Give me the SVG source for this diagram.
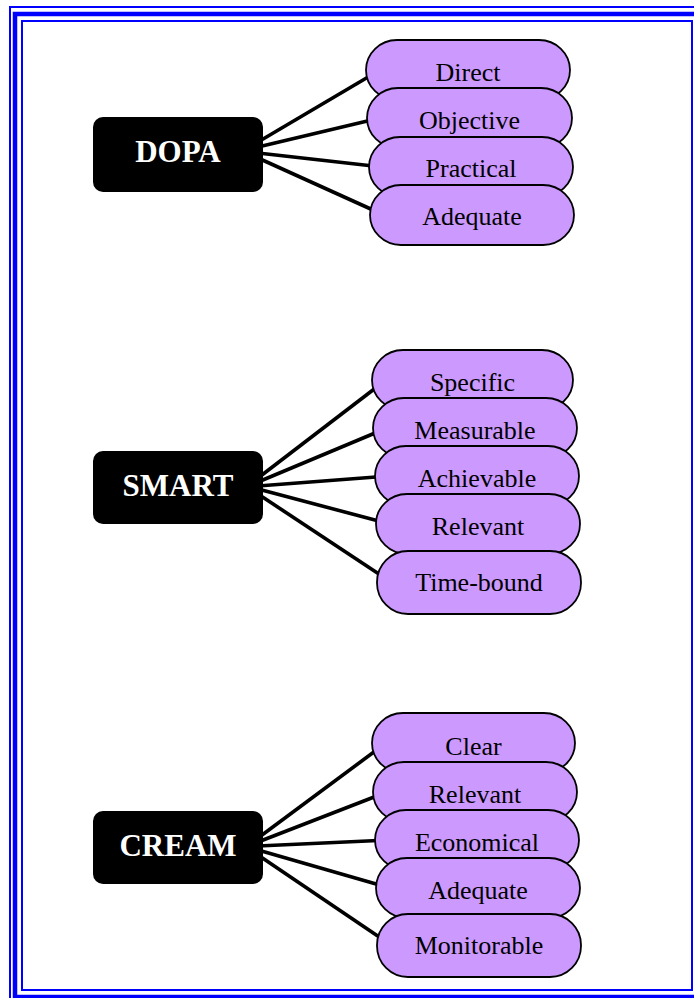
<svg xmlns="http://www.w3.org/2000/svg" width="694" height="998" viewBox="0 0 694 998">
  <style>
    .frame { fill: none; stroke: #0000ff; }
    .edge { stroke: #000; stroke-width: 3.6; stroke-linecap: butt; fill: none; }
    .head rect { fill: #000; }
    .head text { font-family: "Liberation Serif", "Times New Roman", serif; font-weight: bold; font-size: 31px; fill: #fff; text-anchor: middle; }
    .item rect { fill: #cc99ff; stroke: #000; stroke-width: 1.8; }
    .item text { font-family: "Liberation Serif", "Times New Roman", serif; font-size: 26px; fill: #000; text-anchor: middle; }
  </style>

  <rect width="694" height="998" fill="#fff"/>

  <!-- page border: thin / thick / thin -->
  <g id="border">
    <rect class="frame" x="10" y="7" width="700" height="1000" stroke-width="2"/>
    <rect class="frame" x="15" y="14" width="684" height="983" stroke-width="4.5"/>
    <rect class="frame" x="22" y="21" width="670" height="969" stroke-width="2"/>
  </g>

  <!-- connectors -->
  <g id="connectors">
    <line class="edge" x1="258" y1="142" x2="380" y2="70"/>
    <line class="edge" x1="258" y1="147" x2="380" y2="118"/>
    <line class="edge" x1="258" y1="153" x2="382" y2="167"/>
    <line class="edge" x1="258" y1="158" x2="384" y2="215"/>

    <line class="edge" x1="258" y1="478" x2="386" y2="380"/>
    <line class="edge" x1="258" y1="482" x2="387" y2="428"/>
    <line class="edge" x1="258" y1="486" x2="389" y2="476"/>
    <line class="edge" x1="258" y1="489" x2="390" y2="524"/>
    <line class="edge" x1="258" y1="494" x2="391" y2="582"/>

    <line class="edge" x1="258" y1="838" x2="386" y2="743"/>
    <line class="edge" x1="258" y1="842" x2="387" y2="792"/>
    <line class="edge" x1="258" y1="846" x2="389" y2="840"/>
    <line class="edge" x1="258" y1="850" x2="390" y2="888"/>
    <line class="edge" x1="258" y1="855" x2="391" y2="945"/>
  </g>

  <!-- DOPA -->
  <g id="dopa" class="head">
    <rect x="93" y="117" width="170" height="75" rx="10"/>
    <text x="178" y="162">DOPA</text>
  </g>
  <g id="dopa-direct" class="item">
    <rect x="366" y="40" width="204" height="60" rx="31" ry="30"/>
    <text x="468" y="81">Direct</text>
  </g>
  <g id="dopa-objective" class="item">
    <rect x="367" y="88" width="205" height="60" rx="31" ry="30"/>
    <text x="469.5" y="128.5">Objective</text>
  </g>
  <g id="dopa-practical" class="item">
    <rect x="369" y="137" width="204" height="60" rx="31" ry="30"/>
    <text x="471" y="177">Practical</text>
  </g>
  <g id="dopa-adequate" class="item">
    <rect x="370" y="185" width="204" height="60" rx="31" ry="30"/>
    <text x="472" y="225">Adequate</text>
  </g>

  <!-- SMART -->
  <g id="smart" class="head">
    <rect x="93" y="451" width="170" height="73" rx="10"/>
    <text x="178" y="496">SMART</text>
  </g>
  <g id="smart-specific" class="item">
    <rect x="372" y="350" width="201" height="60" rx="31" ry="30"/>
    <text x="472.5" y="391">Specific</text>
  </g>
  <g id="smart-measurable" class="item">
    <rect x="373" y="398" width="204" height="60" rx="31" ry="30"/>
    <text x="475" y="439">Measurable</text>
  </g>
  <g id="smart-achievable" class="item">
    <rect x="375" y="446" width="204" height="60" rx="31" ry="30"/>
    <text x="477" y="487">Achievable</text>
  </g>
  <g id="smart-relevant" class="item">
    <rect x="376" y="494" width="204" height="60" rx="31" ry="30"/>
    <text x="478" y="535">Relevant</text>
  </g>
  <g id="smart-timebound" class="item">
    <rect x="377" y="551" width="204" height="63" rx="31" ry="31"/>
    <text x="479" y="590.5">Time-bound</text>
  </g>

  <!-- CREAM -->
  <g id="cream" class="head">
    <rect x="93" y="811" width="170" height="73" rx="10"/>
    <text x="178" y="856">CREAM</text>
  </g>
  <g id="cream-clear" class="item">
    <rect x="372" y="713" width="203" height="60" rx="31" ry="30"/>
    <text x="473.5" y="755">Clear</text>
  </g>
  <g id="cream-relevant" class="item">
    <rect x="373" y="762" width="204" height="60" rx="31" ry="30"/>
    <text x="475" y="803">Relevant</text>
  </g>
  <g id="cream-economical" class="item">
    <rect x="375" y="810" width="204" height="60" rx="31" ry="30"/>
    <text x="477" y="851">Economical</text>
  </g>
  <g id="cream-adequate" class="item">
    <rect x="376" y="858" width="204" height="60" rx="31" ry="30"/>
    <text x="478" y="899">Adequate</text>
  </g>
  <g id="cream-monitorable" class="item">
    <rect x="377" y="914" width="204" height="63" rx="31" ry="31"/>
    <text x="479" y="954">Monitorable</text>
  </g>
</svg>
